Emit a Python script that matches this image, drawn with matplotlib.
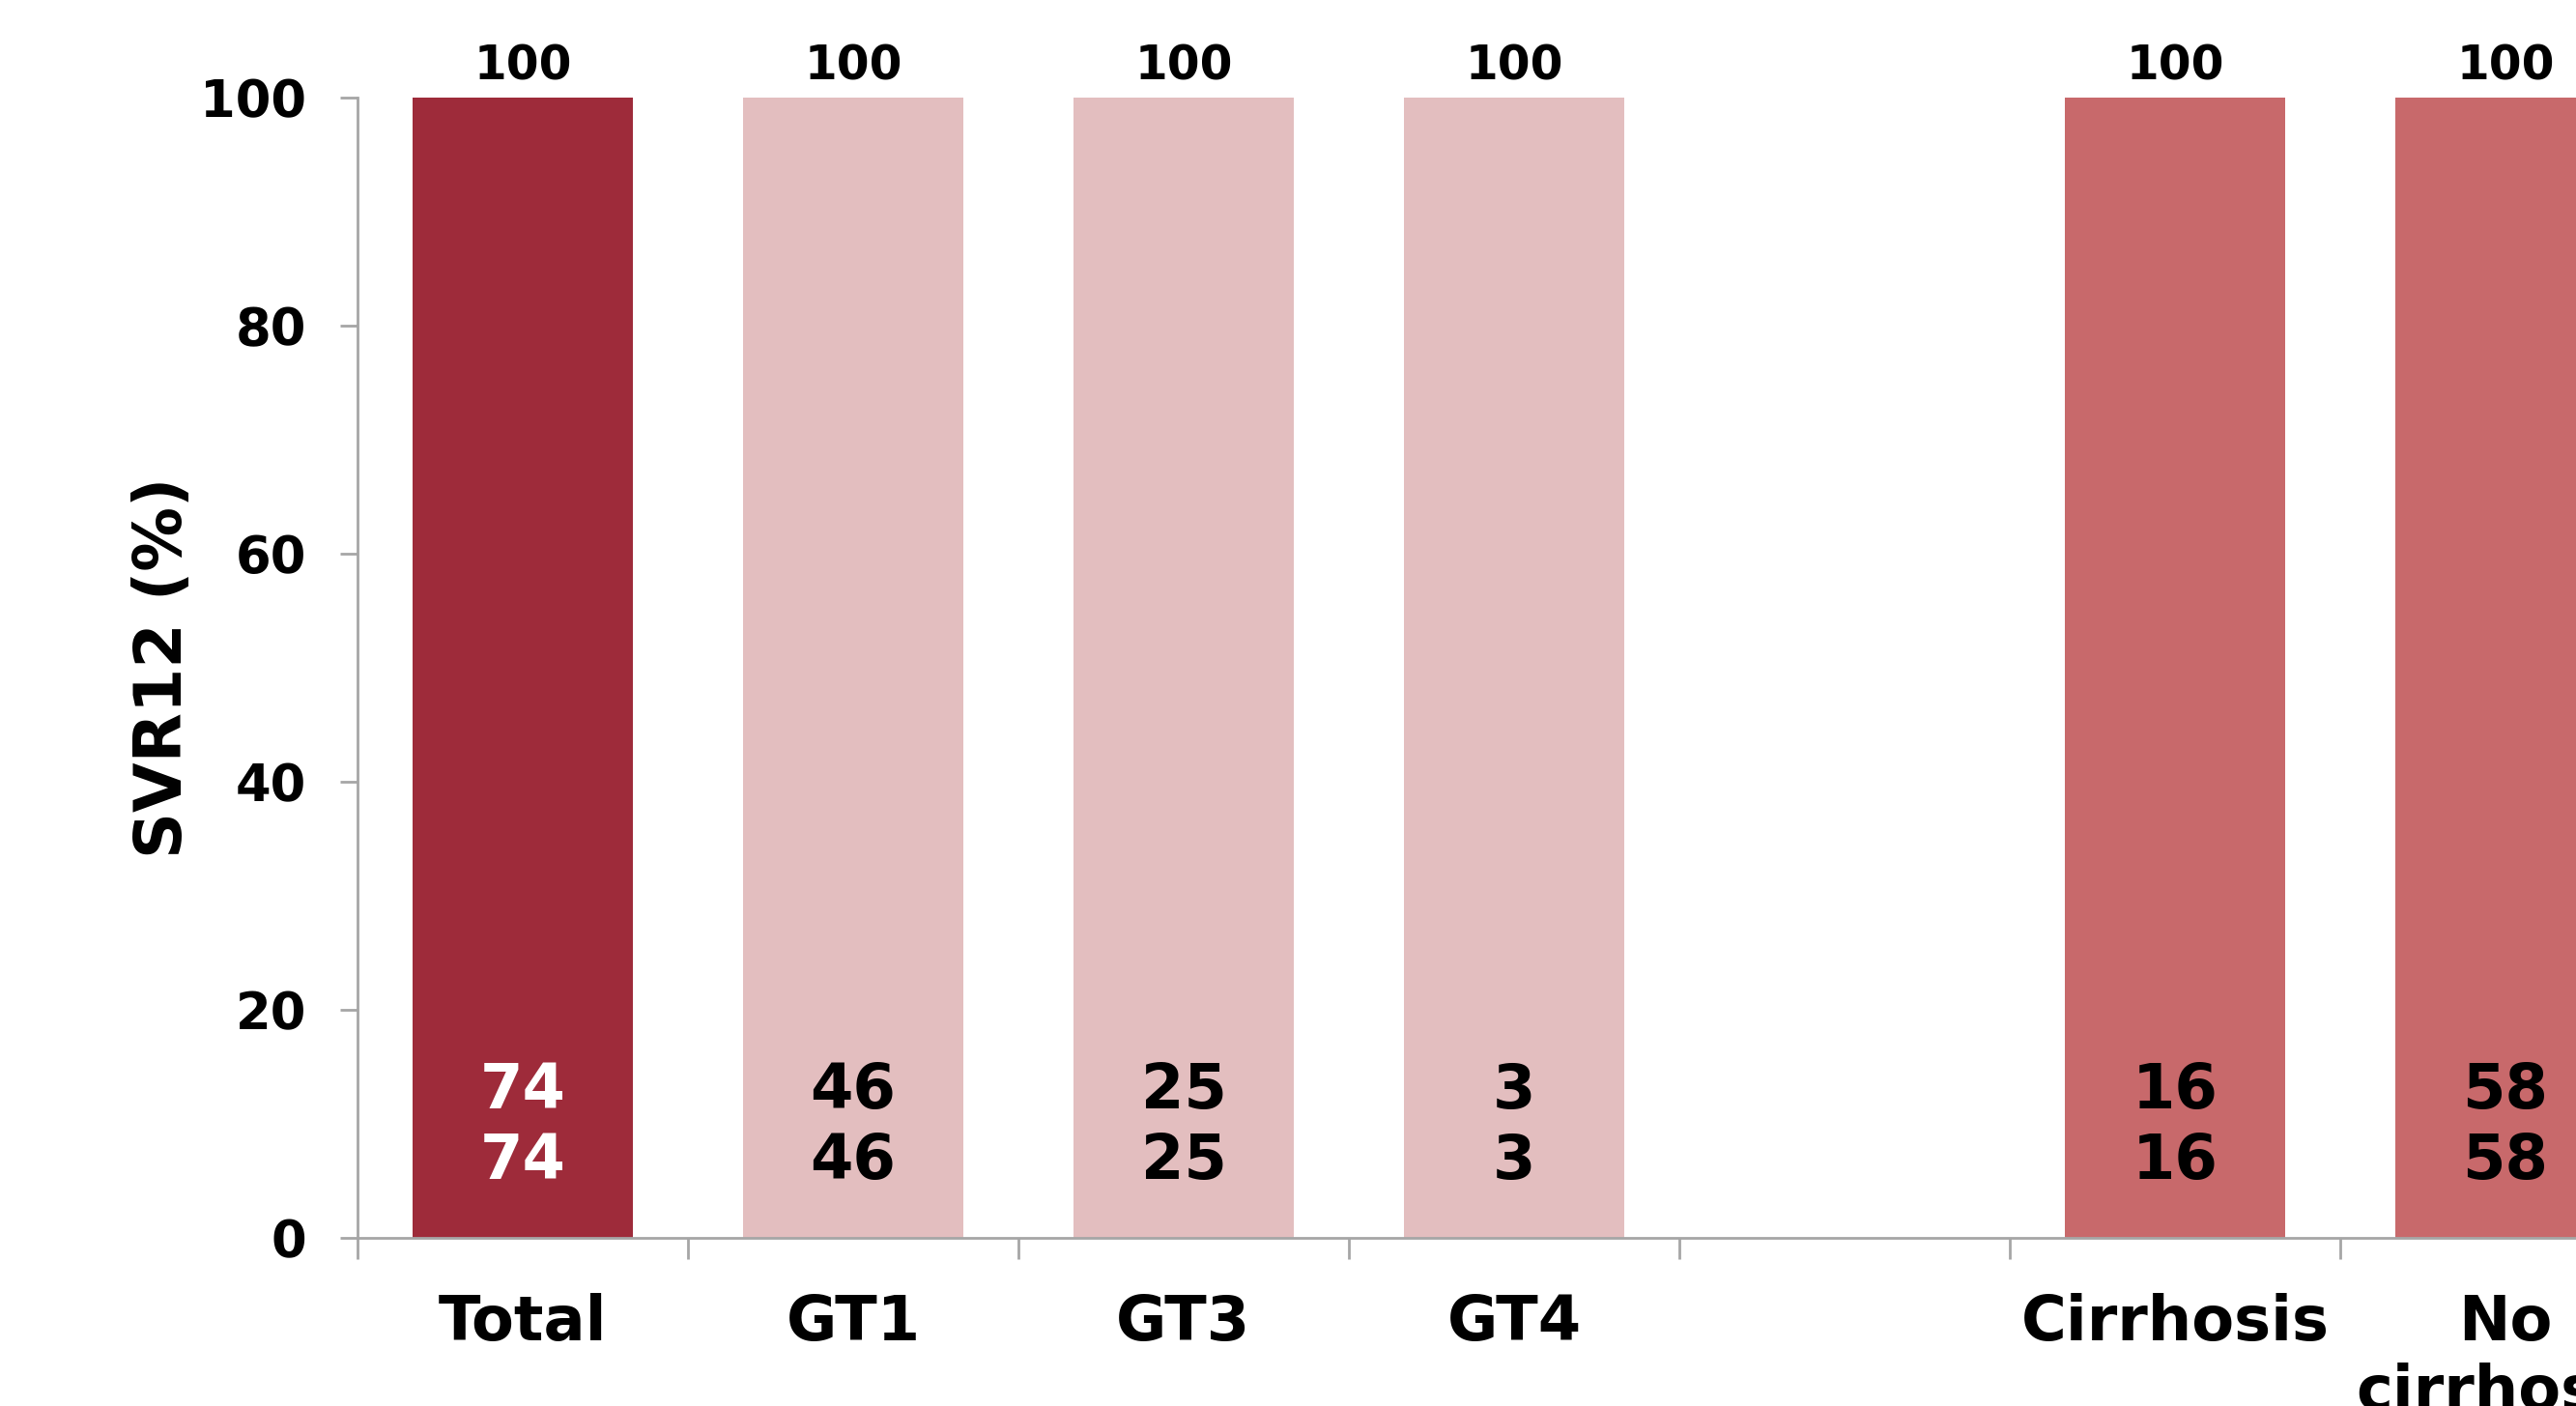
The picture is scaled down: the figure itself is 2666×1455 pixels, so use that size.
import matplotlib
matplotlib.use("Agg")
import matplotlib.pyplot as plt
import numpy as np

# SVR12 by subgroup (blank slot separates genotype and cirrhosis groups)
categories = ["Total", "GT1", "GT3", "GT4", "", "Cirrhosis", "No\ncirrhosis"]
svr12_pct = [100, 100, 100, 100, np.nan, 100, 100]
n_svr = [74, 46, 25, 3, None, 16, 58]
n_total = [74, 46, 25, 3, None, 16, 58]
bar_colors = ["#9E2B3A", "#E3BEBF", "#E3BEBF", "#E3BEBF", "#FFFFFF", "#C8696B", "#C8696B"]
count_colors = ["white", "black", "black", "black", "black", "black", "black"]

W, H, DPI = 2666, 1455, 200
fig = plt.figure(figsize=(W / DPI, H / DPI), dpi=DPI)
# the axes run past the right edge: the reference is cropped through the last bar
ax = fig.add_axes([370 / W, (H - 1281) / H, (2764 - 370) / W, 1180 / H])

x = np.arange(len(categories))
bars = ax.bar(x, svr12_pct, width=0.667, color=bar_colors, zorder=2)

for i, bar in enumerate(bars):
    if n_svr[i] is None:
        continue
    ax.annotate(f"{svr12_pct[i]:.0f}", (x[i], svr12_pct[i]), xytext=(0, 3),
                textcoords="offset points", ha="center", va="bottom",
                fontsize=17.5, fontweight="bold", color="black", clip_on=False)
    ax.text(x[i], 9.8, f"{n_svr[i]}\n{n_total[i]}", ha="center", va="center",
            fontsize=23, fontweight="bold", color=count_colors[i], linespacing=1.22)

ax.set_xlim(-0.5, len(categories) - 0.5)
ax.set_ylim(0, 100)
ax.set_yticks([0, 20, 40, 60, 80, 100])
ax.set_xticks(x)
ax.set_xticklabels(categories, fontsize=23, fontweight="bold", va="top")
ax.set_xticks(np.arange(len(categories) + 1) - 0.5, minor=True)
ax.tick_params(axis="x", which="major", length=0, pad=20.5)
ax.tick_params(axis="x", which="minor", length=7.9, width=1.0, color="#A6A6A6", direction="out")
ax.tick_params(axis="y", length=6.5, width=1.0, color="#A6A6A6", direction="out",
               pad=12.5, labelsize=19)
for lab in ax.get_yticklabels():
    lab.set_fontweight("bold")

ax.set_ylabel("SVR12 (%)", fontsize=24, fontweight="bold", labelpad=2)

for side in ["top", "right"]:
    ax.spines[side].set_visible(False)
for side in ["left", "bottom"]:
    ax.spines[side].set_color("#A6A6A6")
    ax.spines[side].set_linewidth(1.0)

fig.savefig("out.png", dpi=DPI)
